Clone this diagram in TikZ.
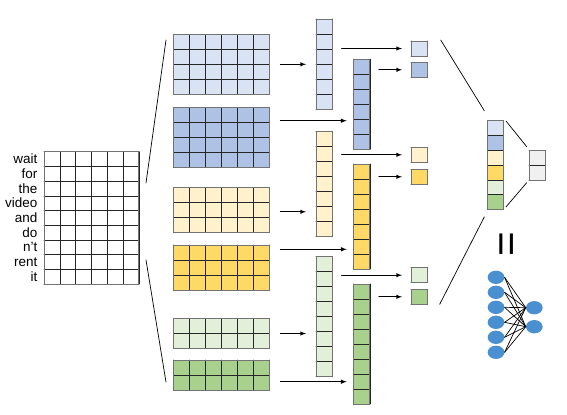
\documentclass[tikz,border=0pt]{standalone}
\usepackage{fontspec}
\setmainfont{Liberation Sans}
\usepackage{xcolor}
\usepackage{tikz}
\tikzset{>=latex}
\usetikzlibrary{shapes,arrows}
\usetikzlibrary{calc}

\definecolor{blueA}{HTML}{DAE3F3}
\definecolor{blueB}{HTML}{ADC2E5}
\definecolor{yelA}{HTML}{FFF2CC}
\definecolor{yelB}{HTML}{FFD966}
\definecolor{grnA}{HTML}{E2F0D9}
\definecolor{grnB}{HTML}{A9D18E}
\definecolor{outgray}{HTML}{F0F0F0}
\definecolor{unitblue}{HTML}{4A8FCF}

\tikzset{
  gridcell/.style={inner sep=0pt, outer sep=0pt, anchor=north west},
  gridline/.style={black!85, line width=0.5pt},
  gridborder/.style={black!55, line width=0.8pt},
  arr/.style={->, line width=0.7pt},
  link/.style={line width=0.6pt},
  nnunit/.style={ellipse, fill=unitblue, inner sep=0pt, minimum width=0.5cm, minimum height=0.4cm},
  word/.style={anchor=east, inner sep=0pt, font=\fontsize{11.5}{12}\selectfont}
}

% name, left, top, cols, rows, cell width, cell height, fill
\newcommand{\cellgrid}[8]{%
  \node[gridcell, fill=#8, minimum width={#4*#6*0.03cm}, minimum height={#5*#7*0.03cm}] (#1) at (#2,#3) {};
  \foreach \i in {0,...,#4} \draw[gridline] (#2+\i*#6,#3) -- ++(0,#5*#7);
  \foreach \j in {0,...,#5} \draw[gridline] (#2,#3+\j*#7) -- ++(#4*#6,0);
  \draw[gridborder] (#1.north west) rectangle (#1.south east);
}

\begin{document}
\begin{tikzpicture}[line cap=round,line join=round,x=0.03cm,y=-0.03cm]
	\useasboundingbox (0,0) rectangle (567,414);
	% sentence matrix
	\cellgrid{inp}{44}{151.7}{6}{9}{15.8}{14.7}{white}
	\foreach \w [count=\k] in {wait,for,the,video,and,do,n't,rent,it}
	\node[word] (w\k) at (37.5,{151.7+14.7*(\k-0.5)}) {\w};
	% filters
	\cellgrid{f1}{173.3}{34.3}{6}{4}{16}{15}{blueA}
	\cellgrid{f2}{173.3}{107.3}{6}{4}{16}{15}{blueB}
	\cellgrid{f3}{173.3}{187.3}{6}{3}{16}{15}{yelA}
	\cellgrid{f4}{173.3}{245}{6}{3}{16}{15}{yelB}
	\cellgrid{f5}{173.3}{318.5}{6}{2}{16}{15}{grnA}
	\cellgrid{f6}{173.3}{360}{6}{2}{16}{15}{grnB}
	% feature maps
	\cellgrid{c1}{316}{19}{1}{6}{16.5}{15}{blueA}
	\cellgrid{c2}{353.3}{59.3}{1}{6}{16.5}{15}{blueB}
	\cellgrid{c3}{316}{131.7}{1}{7}{16.5}{15}{yelA}
	\cellgrid{c4}{353.3}{164}{1}{7}{16.5}{15}{yelB}
	\cellgrid{c5}{316}{256.7}{1}{8}{16.5}{15}{grnA}
	\cellgrid{c6}{353.3}{284}{1}{8}{16.5}{15}{grnB}
	% max pooling
	\cellgrid{p1}{411}{41}{1}{1}{16.7}{15}{blueA}
	\cellgrid{p2}{411}{62.3}{1}{1}{16.7}{15}{blueB}
	\cellgrid{p3}{411}{147.3}{1}{1}{16.7}{15}{yelA}
	\cellgrid{p4}{411}{169.3}{1}{1}{16.7}{15}{yelB}
	\cellgrid{p5}{411}{267.7}{1}{1}{16.7}{15}{grnA}
	\cellgrid{p6}{411}{289.3}{1}{1}{16.7}{15}{grnB}
	% concatenated vector
	\foreach \c [count=\k] in {blueA,blueB,yelA,yelB,grnA,grnB}
	\fill[\c] (487.3,{120.7+14.8*(\k-1)}) rectangle ++(16,14.8);
	\cellgrid{cc}{487.3}{120.7}{1}{6}{16}{14.8}{none}
	\cellgrid{out}{529}{150.3}{1}{2}{16}{15}{outgray}
	\node[rotate=90, inner sep=0pt, font=\fontsize{36}{36}\selectfont] (eq) at (510.5,244) {=};
	% small network
	\foreach \k in {1,...,6}
	\node[nnunit] (l\k) at (496,{277.3+15*(\k-1)}) {};
	\node[nnunit] (r1) at (534.3,307.7) {};
	\node[nnunit] (r2) at (534.3,326.7) {};
	\foreach \k in {1,...,6}
	\foreach \m in {1,2}
	\draw[link] (l\k.east) -- (r\m.west);
	% connectors
	\draw[link] ($(inp.north east)+(7.2,31.3)$) -- ($(f1.north west)+(-7.3,5.7)$);
	\draw[link] ($(inp.south east)+(7.2,-24)$) -- ($(f6.south west)+(-7.3,-8)$);
	\draw[arr] ($(f1.east)+(11,0)$) -- ($(c1.west|-f1.east)+(-10,0)$);
	\draw[arr] ($(f2.north east)+(11,13.4)$) -- ($(c2.north west)+(-6.6,61.4)$);
	\draw[arr] ($(f3.east)+(11,2)$) -- ($(c3.west|-f3.east)+(-10,2)$);
	\draw[arr] ($(f4.north east)+(11,4.3)$) -- ($(c4.north west)+(-6.6,85.3)$);
	\draw[arr] ($(f5.east)+(11,0)$) -- ($(c5.west|-f5.east)+(-10,0)$);
	\draw[arr] ($(f6.north east)+(11,21.7)$) -- ($(c6.north west)+(-6.6,97.7)$);
	\foreach \k in {1,...,6}
	\draw[arr] ($(c\k.east|-p\k.west)+(9,0)$) -- ($(p\k.west)+(-9,0)$);
	\draw[link] ($(p1.north east)+(13,-1)$) -- ($(cc.north west)+(-3,-10)$);
	\draw[link] ($(p6.south east)+(12,0)$) -- ($(cc.south west)+(-3,7.4)$);
	\draw[link] ($(cc.north east)+(2.7,0.3)$) -- ($(out.north west)+(-2.3,-3.6)$);
	\draw[link] ($(cc.south east)+(2.7,-2.6)$) -- ($(out.south west)+(-2.3,2.4)$);
\end{tikzpicture}
\end{document}
